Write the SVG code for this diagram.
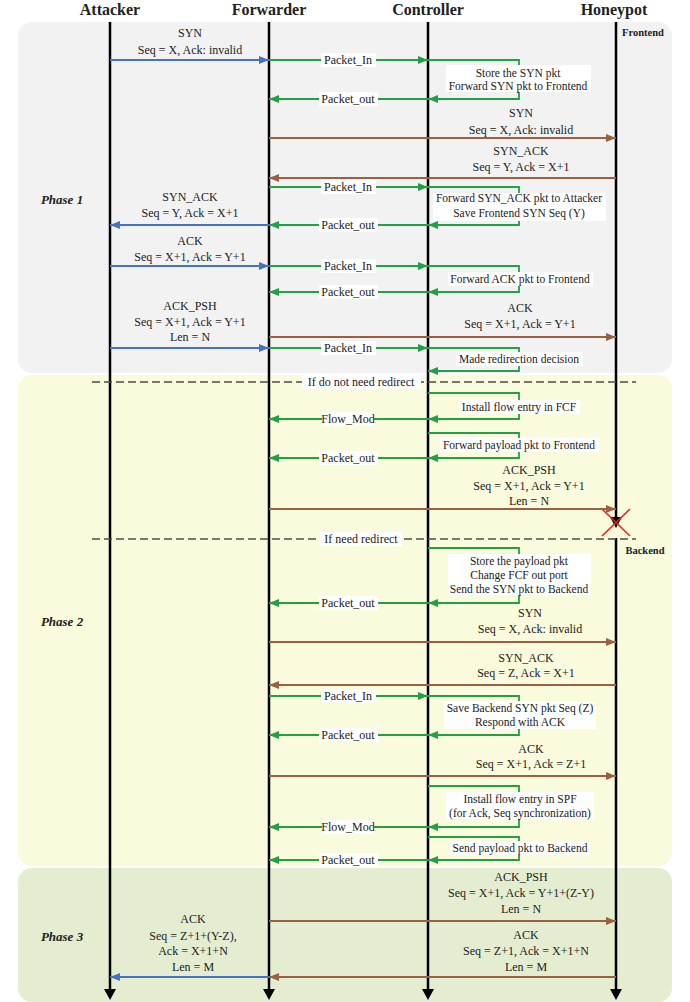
<svg xmlns="http://www.w3.org/2000/svg" width="690" height="1002" viewBox="0 0 690 1002">
<style>
text{font-family:"Liberation Serif","Times New Roman",serif;fill:#222}
.t{font-size:16px;font-weight:bold;text-anchor:middle}
.m{font-size:12px;text-anchor:middle}
.n{font-size:11.5px;text-anchor:middle}
.p{font-size:13px;font-weight:bold;font-style:italic;text-anchor:middle}
.s{font-size:10.5px;font-weight:bold;text-anchor:middle}
.life{stroke:#000;stroke-width:2.5;fill:none}
.b{stroke:#4472c4;stroke-width:1.8;fill:none;marker-end:url(#ab)}
.g{stroke:#22a044;stroke-width:1.8;fill:none;marker-end:url(#ag)}
.r{stroke:#9c6040;stroke-width:1.8;fill:none;marker-end:url(#ar)}
.d{stroke:#4d4d4d;stroke-width:1.4;stroke-dasharray:8 4;fill:none}
.w{fill:#fff}
</style>
<defs>
<marker id="ab" markerUnits="userSpaceOnUse" markerWidth="11" markerHeight="9" refX="10" refY="4" orient="auto"><path d="M0,0 L10,4 L0,8 z" fill="#4472c4"/></marker>
<marker id="ag" markerUnits="userSpaceOnUse" markerWidth="11" markerHeight="9" refX="10" refY="4" orient="auto"><path d="M0,0 L10,4 L0,8 z" fill="#22a044"/></marker>
<marker id="ar" markerUnits="userSpaceOnUse" markerWidth="11" markerHeight="9" refX="10" refY="4" orient="auto"><path d="M0,0 L10,4 L0,8 z" fill="#9c6040"/></marker>
</defs>

<g id="phases">
<rect x="18" y="22" width="654" height="351" rx="14" fill="#f2f2f2"/>
<rect x="18" y="375" width="654" height="491" rx="14" fill="#fafadc"/>
<rect x="18" y="868" width="654" height="134" rx="14" fill="#e4edd0"/>
<text class="p" x="62" y="204">Phase 1</text>
<text class="p" x="62" y="626">Phase 2</text>
<text class="p" x="62" y="941">Phase 3</text>
</g>

<g id="attacker">
<text class="t" x="110" y="15">Attacker</text>
<line class="life" x1="110" y1="22" x2="110" y2="990"/>
<path d="M104,989 L116,989 L110,1000 z" fill="#000"/>
</g>
<g id="forwarder">
<text class="t" x="269" y="15">Forwarder</text>
<line class="life" x1="269" y1="22" x2="269" y2="990"/>
<path d="M263,989 L275,989 L269,1000 z" fill="#000"/>
</g>
<g id="controller">
<text class="t" x="428" y="15">Controller</text>
<line class="life" x1="428" y1="22" x2="428" y2="990"/>
<path d="M422,989 L434,989 L428,1000 z" fill="#000"/>
</g>
<g id="honeypot">
<text class="t" x="614" y="15">Honeypot</text>
<line class="life" x1="616" y1="22" x2="616" y2="519"/>
<path d="M610,517 L622,517 L616,528 z" fill="#000"/>
<text class="s" x="643" y="36">Frontend</text>
<line class="life" x1="616" y1="538" x2="616" y2="990"/>
<path d="M610,989 L622,989 L616,1000 z" fill="#000"/>
<text class="s" x="645" y="554">Backend</text>
<line x1="602" y1="509" x2="630" y2="536" stroke="#e8231f" stroke-width="1.6"/>
<line x1="630" y1="509" x2="602" y2="536" stroke="#e8231f" stroke-width="1.6"/>
</g>

<g id="connectors">
<line class="b" x1="110" y1="60" x2="269" y2="60"/>
<line class="g" x1="269" y1="60" x2="428" y2="60"/>
<path class="g" d="M428,60 H519 V99 H428"/>
<line class="g" x1="428" y1="99" x2="269" y2="99"/>
<line class="r" x1="269" y1="138" x2="616" y2="138"/>
<line class="r" x1="616" y1="178" x2="269" y2="178"/>
<line class="g" x1="269" y1="187" x2="428" y2="187"/>
<path class="g" d="M428,187 H519 V225 H428"/>
<line class="g" x1="428" y1="225" x2="269" y2="225"/>
<line class="b" x1="269" y1="225" x2="110" y2="225"/>
<line class="b" x1="110" y1="266" x2="269" y2="266"/>
<line class="g" x1="269" y1="266" x2="428" y2="266"/>
<path class="g" d="M428,266 H519 V292 H428"/>
<line class="g" x1="428" y1="292" x2="269" y2="292"/>
<line class="r" x1="269" y1="337" x2="616" y2="337"/>
<line class="b" x1="110" y1="348" x2="269" y2="348"/>
<line class="g" x1="269" y1="348" x2="428" y2="348"/>
<path class="g" d="M428,348 H519 V371 H428"/>
<line class="d" x1="92" y1="382" x2="636" y2="382"/>
<path class="g" d="M428,393 H519 V419 H428"/>
<line class="g" x1="428" y1="419" x2="269" y2="419"/>
<path class="g" d="M428,433 H519 V458 H428"/>
<line class="g" x1="428" y1="458" x2="269" y2="458"/>
<line class="r" x1="269" y1="509" x2="616" y2="509"/>
<line class="d" x1="92" y1="539" x2="636" y2="539"/>
<path class="g" d="M428,548 H519 V603 H428"/>
<line class="g" x1="428" y1="603" x2="269" y2="603"/>
<line class="r" x1="269" y1="642" x2="616" y2="642"/>
<line class="r" x1="616" y1="685" x2="269" y2="685"/>
<line class="g" x1="269" y1="696" x2="428" y2="696"/>
<path class="g" d="M428,696 H519 V735 H428"/>
<line class="g" x1="428" y1="735" x2="269" y2="735"/>
<line class="r" x1="269" y1="776" x2="616" y2="776"/>
<path class="g" d="M428,786 H519 V827 H428"/>
<line class="g" x1="428" y1="827" x2="269" y2="827"/>
<path class="g" d="M428,837 H519 V860 H428"/>
<line class="g" x1="428" y1="860" x2="269" y2="860"/>
<line class="r" x1="269" y1="921" x2="616" y2="921"/>
<line class="r" x1="616" y1="977" x2="269" y2="977"/>
<line class="b" x1="269" y1="977" x2="110" y2="977"/>
</g>

<g id="labels">
<text class="m" x="190" y="37">SYN</text>
<text class="m" x="190" y="54">Seq = X, Ack: invalid</text>
<rect class="w" x="321" y="53" width="55" height="14"/><text class="m" x="348" y="64">Packet_In</text>
<rect class="w" x="446" y="65" width="145" height="27"/>
<text class="n" x="518" y="77">Store the SYN pkt</text>
<text class="n" x="518" y="90">Forward SYN pkt to Frontend</text>
<rect class="w" x="319" y="92" width="59" height="14"/><text class="m" x="348" y="103">Packet_out</text>
<text class="m" x="521" y="117">SYN</text>
<text class="m" x="521" y="134">Seq = X, Ack: invalid</text>
<text class="m" x="521" y="155">SYN_ACK</text>
<text class="m" x="521" y="171">Seq = Y, Ack = X+1</text>
<rect class="w" x="321" y="180" width="55" height="14"/><text class="m" x="348" y="191">Packet_In</text>
<rect class="w" x="433" y="193" width="173" height="28"/>
<text class="n" x="519" y="202">Forward SYN_ACK pkt to Attacker</text>
<text class="n" x="519" y="217">Save Frontend SYN Seq (Y)</text>
<text class="m" x="190" y="201">SYN_ACK</text>
<text class="m" x="190" y="217">Seq = Y, Ack = X+1</text>
<rect class="w" x="319" y="218" width="59" height="14"/><text class="m" x="348" y="229">Packet_out</text>
<text class="m" x="190" y="245">ACK</text>
<text class="m" x="190" y="261">Seq = X+1, Ack = Y+1</text>
<rect class="w" x="321" y="259" width="55" height="14"/><text class="m" x="348" y="270">Packet_In</text>
<rect class="w" x="448" y="272" width="145" height="14"/>
<text class="n" x="520" y="283">Forward ACK pkt to Frontend</text>
<rect class="w" x="319" y="285" width="59" height="14"/><text class="m" x="348" y="296">Packet_out</text>
<text class="m" x="520" y="312">ACK</text>
<text class="m" x="520" y="328">Seq = X+1, Ack = Y+1</text>
<text class="m" x="190" y="310">ACK_PSH</text>
<text class="m" x="190" y="326">Seq = X+1, Ack = Y+1</text>
<text class="m" x="190" y="341">Len = N</text>
<rect class="w" x="321" y="341" width="55" height="14"/><text class="m" x="348" y="352">Packet_In</text>
<rect class="w" x="456" y="352" width="127" height="14"/>
<text class="n" x="519" y="363">Made redirection decision</text>

<rect class="w" x="302" y="375" width="119" height="14"/>
<text class="m" x="361" y="386">If do not need redirect</text>
<rect class="w" x="459" y="400" width="121" height="14"/>
<text class="n" x="519" y="411">Install flow entry in FCF</text>
<rect class="w" x="322" y="412" width="52" height="14"/><text class="m" x="348" y="423">Flow_Mod</text>
<rect class="w" x="440" y="438" width="159" height="14"/>
<text class="n" x="519" y="449">Forward payload pkt to Frontend</text>
<rect class="w" x="319" y="451" width="59" height="14"/><text class="m" x="348" y="462">Packet_out</text>
<text class="m" x="529" y="474">ACK_PSH</text>
<text class="m" x="529" y="490">Seq = X+1, Ack = Y+1</text>
<text class="m" x="529" y="505">Len = N</text>
<rect class="w" x="320" y="532" width="82" height="14"/>
<text class="m" x="361" y="543">If need redirect</text>
<rect class="w" x="448" y="554" width="143" height="41"/>
<text class="n" x="519" y="565">Store the payload pkt</text>
<text class="n" x="519" y="579">Change FCF out port</text>
<text class="n" x="519" y="593">Send the SYN pkt to Backend</text>
<rect class="w" x="319" y="596" width="59" height="14"/><text class="m" x="348" y="607">Packet_out</text>
<text class="m" x="530" y="617">SYN</text>
<text class="m" x="530" y="633">Seq = X, Ack: invalid</text>
<text class="m" x="526" y="662">SYN_ACK</text>
<text class="m" x="526" y="677">Seq = Z, Ack = X+1</text>
<rect class="w" x="321" y="689" width="55" height="14"/><text class="m" x="348" y="700">Packet_In</text>
<rect class="w" x="444" y="701" width="152" height="28"/>
<text class="n" x="520" y="712">Save Backend SYN pkt Seq (Z)</text>
<text class="n" x="520" y="726">Respond with ACK</text>
<rect class="w" x="319" y="728" width="59" height="14"/><text class="m" x="348" y="739">Packet_out</text>
<text class="m" x="531" y="753">ACK</text>
<text class="m" x="531" y="768">Seq = X+1, Ack = Z+1</text>
<rect class="w" x="446" y="792" width="148" height="27"/>
<text class="n" x="520" y="803">Install flow entry in SPF</text>
<text class="n" x="520" y="817">(for Ack, Seq synchronization)</text>
<rect class="w" x="322" y="820" width="52" height="14"/><text class="m" x="348" y="831">Flow_Mod</text>
<rect class="w" x="450" y="841" width="140" height="14"/>
<text class="n" x="520" y="852">Send payload pkt to Backend</text>
<rect class="w" x="319" y="853" width="59" height="14"/><text class="m" x="348" y="864">Packet_out</text>

<text class="m" x="521" y="881">ACK_PSH</text>
<text class="m" x="521" y="897">Seq = X+1, Ack = Y+1+(Z-Y)</text>
<text class="m" x="521" y="913">Len = N</text>
<text class="m" x="193" y="923">ACK</text>
<text class="m" x="193" y="940">Seq = Z+1+(Y-Z),</text>
<text class="m" x="193" y="955">Ack = X+1+N</text>
<text class="m" x="193" y="971">Len = M</text>
<text class="m" x="526" y="939">ACK</text>
<text class="m" x="526" y="955">Seq = Z+1, Ack = X+1+N</text>
<text class="m" x="526" y="971">Len = M</text>
</g>
</svg>
